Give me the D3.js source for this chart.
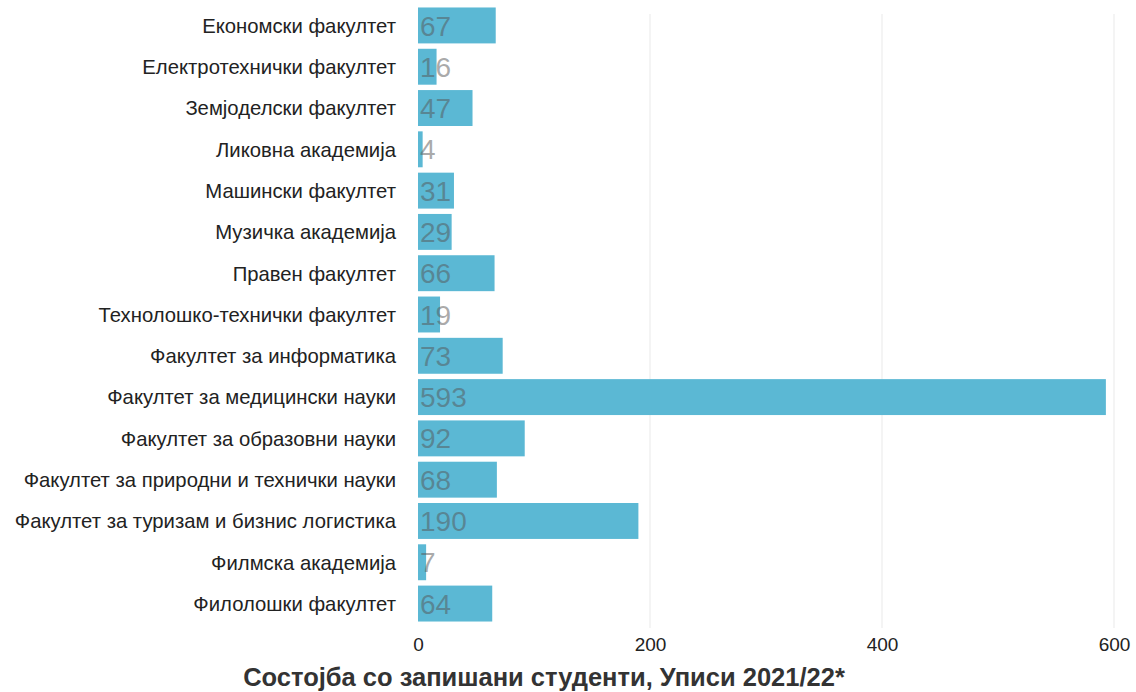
<!DOCTYPE html>
<html><head><meta charset="utf-8">
<script src="https://cdn.jsdelivr.net/npm/d3@7"></script>
<style>body{margin:0;background:#fff;} svg text{font-family:"Liberation Sans",Arial,sans-serif;}</style>
</head><body>
<svg id="c" width="1136" height="692"></svg>
<script>
const categories = ["Економски факултет","Електротехнички факултет","Земјоделски факултет","Ликовна академија","Машински факултет","Музичка академија","Правен факултет","Технолошко-технички факултет","Факултет за информатика","Факултет за медицински науки","Факултет за образовни науки","Факултет за природни и технички науки","Факултет за туризам и бизнис логистика","Филмска академија","Филолошки факултет"];
const values = [67,16,47,4,31,29,66,19,73,593,92,68,190,7,64];
const ticks = [0,200,400,600];
const title = "Состојба со запишани студенти, Уписи 2021/22*";

const svg = d3.select("#c");
const m = {left:418, right:22, top:5};
const W = 1136;
const x = d3.scaleLinear().domain([0,600]).range([m.left, W-m.right]);
const y = d3.scaleBand().domain(categories).range([m.top, 624]).paddingInner(0.13).paddingOuter(0.06);

svg.append("g").selectAll("line").data(ticks.filter(t=>t>0)).join("line")
  .attr("x1",d=>x(d)).attr("x2",d=>x(d)).attr("y1",14).attr("y2",628)
  .attr("stroke","#f0f0f0").attr("stroke-width",1.5);

svg.append("g").selectAll("rect").data(values).join("rect")
  .attr("x",x(0)).attr("y",(d,i)=>y(categories[i]))
  .attr("width",d=>x(d)-x(0)).attr("height",y.bandwidth())
  .attr("fill","#5bb8d4");

svg.append("g").selectAll("text").data(values).join("text")
  .attr("x",x(0)+2).attr("y",(d,i)=>y(categories[i])+y.bandwidth()/2)
  .attr("dy","0.36em").attr("font-size",28)
  .attr("fill","#555").attr("fill-opacity",0.5)
  .text(d=>d);

svg.append("g").selectAll("text").data(categories).join("text")
  .attr("x",396).attr("y",d=>y(d)+y.bandwidth()/2).attr("dy","0.36em")
  .attr("text-anchor","end").attr("font-size",20.3).attr("fill","#222")
  .text(d=>d);

const ax = svg.append("g").attr("transform","translate(0,630)")
  .call(d3.axisBottom(x).tickValues(ticks).tickSize(0).tickPadding(8));
ax.select(".domain").remove();
ax.selectAll("text").attr("font-size",19).attr("fill","#222");

svg.append("text").attr("x",544).attr("y",686).attr("text-anchor","middle")
  .attr("font-size",25.5).attr("font-weight","bold").attr("fill","#333").text(title);
</script>
</body></html>
